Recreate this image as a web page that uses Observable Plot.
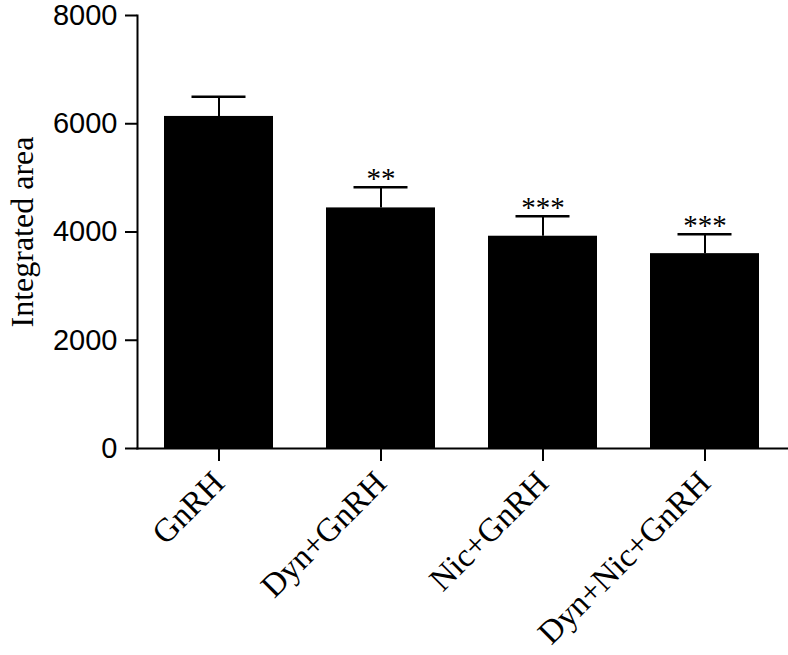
<!DOCTYPE html>
<html>
<head>
<meta charset="utf-8">
<script src="https://cdn.jsdelivr.net/npm/d3@7"></script>
<script src="https://cdn.jsdelivr.net/npm/@observablehq/plot@0.6"></script>
<style>
  html, body { margin: 0; padding: 0; background: #fff; }
</style>
</head>
<body>
<div id="chart"></div>
<script>
const groups = ["GnRH", "Dyn+GnRH", "Nic+GnRH", "Dyn+Nic+GnRH"];
const means = [6135, 4445, 3922, 3600];
const uppers = [6500, 4827, 4292, 3960];
const sigs = ["", "**", "***", "***"];
const yTicks = [0, 2000, 4000, 6000, 8000];
const yLabel = "Integrated area";

const data = groups.map((g, i) => ({group: g, mean: means[i], upper: uppers[i], sig: sigs[i]}));

const serif = "'Liberation Serif', 'Times New Roman', serif";
const sans = "'Liberation Sans', Arial, sans-serif";

const chart = Plot.plot({
  width: 788,
  height: 655,
  marginLeft: 137,
  marginRight: 1,
  marginTop: 15,
  marginBottom: 207,
  x: {domain: groups, paddingInner: 0.326, paddingOuter: 0.163},
  y: {domain: [0, 8000]},
  style: {background: "white", color: "black"},
  marks: [
    Plot.barY(data, {x: "group", y: "mean", fill: "black"}),
    Plot.ruleX(data, {x: "group", y1: "mean", y2: "upper", stroke: "black", strokeWidth: 2}),
    Plot.tickY(data, {x: "group", y: "upper", stroke: "black", strokeWidth: 2.5, insetLeft: 27.5, insetRight: 27.5}),
    Plot.text(data, {x: "group", y: "upper", text: "sig", dy: 1, lineAnchor: "bottom", fontFamily: serif, fontSize: 29, fill: "black"}),
    Plot.frame({anchor: "left", stroke: "black", strokeWidth: 2}),
    Plot.frame({anchor: "bottom", stroke: "black", strokeWidth: 2}),
    Plot.axisY({ticks: yTicks, tickFormat: d => String(d), tickSize: 12, tickPadding: 8, strokeWidth: 2, fontSize: 29, fontFamily: sans, label: null}),
    Plot.axisX({tickSize: 13, tickPadding: 16, tickRotate: -45, strokeWidth: 2, fontSize: 33, fontFamily: serif, label: null}),
    Plot.text([yLabel], {frameAnchor: "left", rotate: -90, dx: -115, textAnchor: "middle", fontFamily: serif, fontSize: 32, fill: "black"})
  ]
});
document.getElementById("chart").appendChild(chart);
</script>
</body>
</html>
